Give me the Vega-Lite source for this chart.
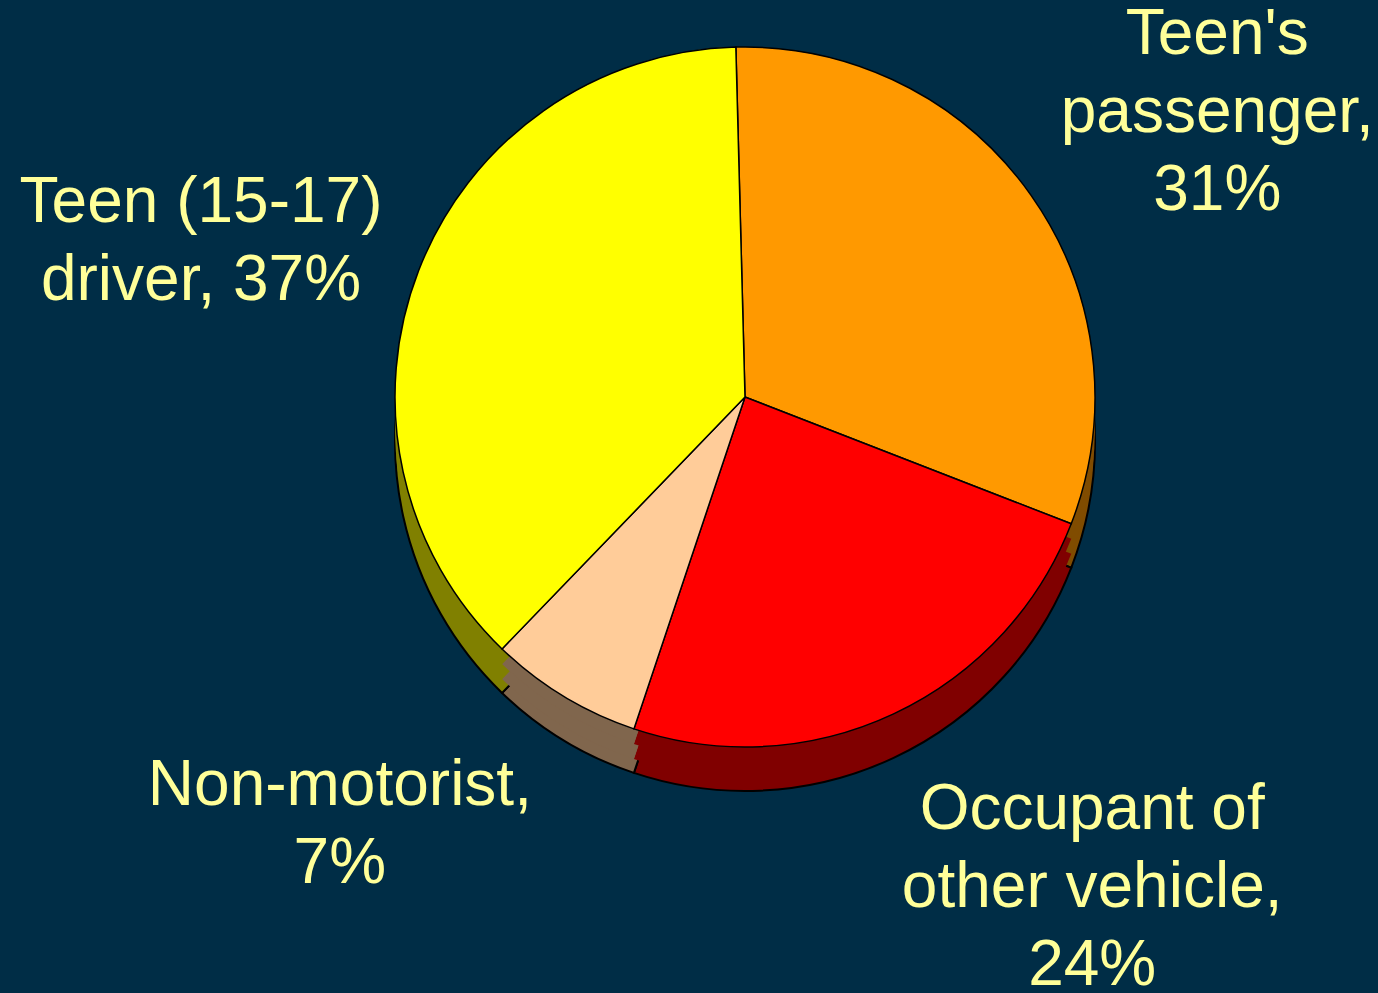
{
  "$schema": "https://vega.github.io/schema/vega-lite/v6.json",
  "autosize": {"type": "none"},
  "padding": {"left": 112, "top": 0, "right": 0, "bottom": 199},
  "width": 1266,
  "height": 794,
  "background": "#002D46",
  "config": {"view": {"stroke": null}},
  "data": {
    "values": [
      {"cat": "Teen's passenger", "value": 31, "order": 1, "label": "Teen's\npassenger,\n31%"},
      {"cat": "Occupant of other vehicle", "value": 24, "order": 2, "label": "Occupant of\nother vehicle,\n24%"},
      {"cat": "Non-motorist", "value": 7, "order": 3, "label": "Non-motorist,\n7%"},
      {"cat": "Teen (15-17) driver", "value": 37, "order": 4, "label": "Teen (15-17)\ndriver, 37%"}
    ]
  },
  "encoding": {
    "theta": {"field": "value", "type": "quantitative", "stack": true, "scale": {"range": [-0.026, 6.257]}},
    "order": {"field": "order", "type": "quantitative"}
  },
  "layer": [
    {
      "mark": {"type": "arc", "radius": 350, "yOffset": 44, "stroke": "#000000", "strokeWidth": 2},
      "encoding": {
        "fill": {"field": "cat", "type": "nominal", "legend": null,
          "scale": {"domain": ["Teen's passenger", "Occupant of other vehicle", "Non-motorist", "Teen (15-17) driver"],
                    "range": ["#804C00", "#800000", "#80664D", "#808000"]}}
      }
    },
    {
      "mark": {"type": "arc", "radius": 350, "yOffset": 30, "strokeWidth": 0},
      "encoding": {
        "fill": {"field": "cat", "type": "nominal", "legend": null}
      }
    },
    {
      "mark": {"type": "arc", "radius": 350, "yOffset": 15, "strokeWidth": 0},
      "encoding": {
        "fill": {"field": "cat", "type": "nominal", "legend": null}
      }
    },
    {
      "mark": {"type": "arc", "radius": 350, "stroke": "#000000", "strokeWidth": 1.5},
      "encoding": {
        "color": {"field": "cat", "type": "nominal", "legend": null,
          "scale": {"domain": ["Teen's passenger", "Occupant of other vehicle", "Non-motorist", "Teen (15-17) driver"],
                    "range": ["#FF9900", "#FF0000", "#FFCC99", "#FFFF00"]}}
      }
    },
    {
      "mark": {"type": "text", "radius": 575, "dx": 2, "dy": -31, "font": "Liberation Sans", "fontSize": 64, "lineHeight": 78, "lineBreak": "\n", "align": "center", "baseline": "middle", "color": "#FFFF99"},
      "encoding": {"text": {"condition": {"test": "datum.order === 1", "field": "label"}, "value": ""}}
    },
    {
      "mark": {"type": "text", "radius": 575, "dx": 103, "dy": -108, "font": "Liberation Sans", "fontSize": 64, "lineHeight": 78, "lineBreak": "\n", "align": "center", "baseline": "middle", "color": "#FFFF99"},
      "encoding": {"text": {"condition": {"test": "datum.order === 2", "field": "label"}, "value": ""}}
    },
    {
      "mark": {"type": "text", "radius": 575, "dx": -107, "dy": -103, "font": "Liberation Sans", "fontSize": 64, "lineHeight": 78, "lineBreak": "\n", "align": "center", "baseline": "middle", "color": "#FFFF99"},
      "encoding": {"text": {"condition": {"test": "datum.order === 3", "field": "label"}, "value": ""}}
    },
    {
      "mark": {"type": "text", "radius": 575, "dx": -8, "dy": 14, "font": "Liberation Sans", "fontSize": 64, "lineHeight": 78, "lineBreak": "\n", "align": "center", "baseline": "middle", "color": "#FFFF99"},
      "encoding": {"text": {"condition": {"test": "datum.order === 4", "field": "label"}, "value": ""}}
    }
  ]
}
